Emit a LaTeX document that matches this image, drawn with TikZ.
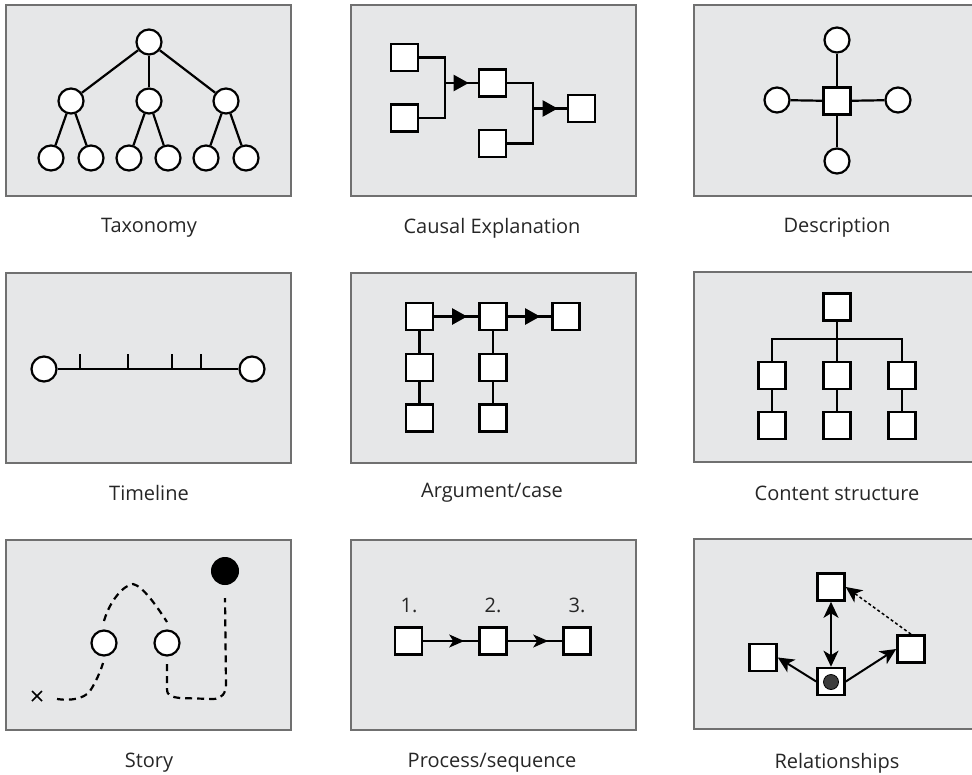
\documentclass[tikz,border=0pt]{standalone}
\usepackage{fontspec}
\setmainfont[Ligatures=NoCommon]{Open Sans}
\usetikzlibrary{arrows.meta,decorations.markings,calc}
\definecolor{panelfill}{HTML}{E6E7E8}
\definecolor{panelline}{HTML}{707070}
\definecolor{dotfill}{HTML}{3C3C3C}
\tikzset{
  panel/.style={draw=panelline, fill=panelfill, line width=1.1pt},
  sq/.style={draw, fill=white, line width=2.6pt, minimum size=27pt, inner sep=0pt},
  circ/.style={circle, draw, fill=white, line width=2.2pt, minimum size=25pt, inner sep=0pt},
  conn/.style={line width=2.2pt},
  lbl/.style={font=\fontsize{20}{24}\selectfont, text=black!85},
  midtri/.style={postaction={decorate}, decoration={markings,
     mark=at position #1 with {\arrow{Triangle[length=15pt,width=16pt]}}}},
  midstealth/.style={postaction={decorate}, decoration={markings,
     mark=at position #1 with {\arrow{Stealth[length=15pt,width=13pt,inset=4pt]}}}},
  rarrow/.style={line width=2pt, -{Stealth[length=16pt,width=15pt,inset=4.5pt]}},
  storyline/.style={line width=2.2pt, dash pattern=on 7pt off 5pt},
}
\begin{document}
\begin{tikzpicture}[x=1pt,y=-1pt]
\useasboundingbox (0,0) rectangle (972,774);
% panels
\draw[panel] (6,5) rectangle (291,196);
\draw[panel] (351,5) rectangle (636,196);
\draw[panel] (694,5) rectangle (979,196);
\draw[panel] (6,273) rectangle (291,463);
\draw[panel] (351,273) rectangle (636,463);
\draw[panel] (694,272) rectangle (979,462);
\draw[panel] (6,540) rectangle (291,730);
\draw[panel] (351,540) rectangle (636,730);
\draw[panel] (694,539) rectangle (979,729);
% labels
\node[lbl] (L1) at (149,228) {Taxonomy};
\node[lbl] (L2) at (492,228) {Causal Explanation};
\node[lbl] (L3) at (837,228) {Description};
\node[lbl] (L4) at (149,493) {Timeline};
\node[lbl] (L5) at (492,493) {Argument/case};
\node[lbl] (L6) at (837,493) {Content structure};
\node[lbl] (L7) at (149,763) {Story};
\node[lbl] (L8) at (492,763) {Process/sequence};
\node[lbl] (L9) at (837,763) {Relationships};

% ---- Taxonomy
\node[circ] (t0) at (149,42) {};
\node[circ] (t1) at (71,101) {};
\node[circ] (t2) at (149,101) {};
\node[circ] (t3) at (226,101) {};
\node[circ] (t11) at (51,158) {};
\node[circ] (t12) at (91,158) {};
\node[circ] (t21) at (129,158) {};
\node[circ] (t22) at (168,158) {};
\node[circ] (t31) at (206,158) {};
\node[circ] (t32) at (246,158) {};
\draw[conn] (t0) -- (t1); \draw[conn] (t0) -- (t2); \draw[conn] (t0) -- (t3);
\draw[conn] (t1) -- (t11); \draw[conn] (t1) -- (t12);
\draw[conn] (t2) -- (t21); \draw[conn] (t2) -- (t22);
\draw[conn] (t3) -- (t31); \draw[conn] (t3) -- (t32);

% ---- Causal explanation
\node[sq] (c1) at (404.5,57.5) {};
\node[sq] (c2) at (404.5,118) {};
\node[sq] (c3) at (492.5,83) {};
\node[sq] (c4) at (492.5,143.5) {};
\node[sq] (c5) at (581.5,108.5) {};
\coordinate (j1) at (445,83);
\coordinate (j2) at (533,108.5);
\draw[conn] (c1.east) -| (j1) |- (c2.east);
\draw[conn, midtri=-9pt] (j1) -- (c3.west);
\draw[conn] (c3.east) -| (j2) |- (c4.east);
\draw[conn, midtri=-9pt] (j2) -- (c5.west);

% ---- Description
\node[sq] (dc) at (837,101) {};
\node[circ] (dt) at (837,40) {};
\node[circ] (db) at (837,161) {};
\node[circ] (dl) at (777,100) {};
\node[circ] (dr) at (898,100) {};
\draw[conn] (dc) -- (dt); \draw[conn] (dc) -- (db);
\draw[conn] (dc) -- (dl); \draw[conn] (dc) -- (dr);

% ---- Timeline
\node[circ] (tl) at (44,369) {};
\node[circ] (tr) at (252,369) {};
\draw[conn] (tl) -- (tr);
\foreach \x in {80,128,172,201} \draw[conn] (\x,369) -- (\x,354);

% ---- Argument/case
\node[sq] (a1) at (419.5,316.5) {};
\node[sq] (a2) at (493,316.5) {};
\node[sq] (a3) at (566,316.5) {};
\node[sq] (a4) at (419.5,367.5) {};
\node[sq] (a5) at (419.5,418) {};
\node[sq] (a6) at (493,367.5) {};
\node[sq] (a7) at (493,418) {};
\draw[conn, midtri=-11pt] (a1) -- (a2);
\draw[conn, midtri=-11pt] (a2) -- (a3);
\draw[conn] (a1) -- (a4); \draw[conn] (a4) -- (a5);
\draw[conn] (a2) -- (a6); \draw[conn] (a6) -- (a7);

% ---- Content structure
\node[sq] (k0) at (837,307) {};
\node[sq] (k1) at (772,375.5) {};
\node[sq] (k2) at (837,375.5) {};
\node[sq] (k3) at (902,375.5) {};
\node[sq] (k4) at (772,425.5) {};
\node[sq] (k5) at (837,425.5) {};
\node[sq] (k6) at (902,425.5) {};
\coordinate (kb) at (837,339);
\draw[conn] (k0) -- (k2);
\draw[conn] (k1.north) |- (kb) -| (k3.north);
\draw[conn] (k1) -- (k4); \draw[conn] (k2) -- (k5); \draw[conn] (k3) -- (k6);

% ---- Story
\node[circ] (s1) at (104,643) {};
\node[circ] (s2) at (167,643) {};
\node[circle, fill=black, draw, line width=1pt, minimum size=27pt, inner sep=0pt] (s3) at (225,571) {};
\draw[line width=1.6pt] (32,691) -- (42,701) (32,701) -- (42,691);
\draw[storyline]
  (57,699) .. controls (70,701) and (84,699) .. (90,691)
  .. controls (96,682) and (101,670) .. (103,663);
\draw[storyline]
  (104,621) .. controls (110,600) and (124,585) .. (133,584)
  .. controls (143,586) and (158,608) .. (167,622);
\draw[storyline]
  (167,664) -- (167,689) .. controls (167,696) and (172,697) .. (180,698)
  -- (213,699) .. controls (222,699) and (226,693) .. (226,684) -- (225,598);

% ---- Process/sequence
\node[sq] (p1) at (408.5,641) {};
\node[sq] (p2) at (493,641) {};
\node[sq] (p3) at (577,641) {};
\node[lbl] (n1) at (409,605) {1.};
\node[lbl] (n2) at (493,605) {2.};
\node[lbl] (n3) at (577,605) {3.};
\draw[line width=1.6pt, midstealth=-14pt] (p1) -- (p2);
\draw[line width=1.6pt, midstealth=-14pt] (p2) -- (p3);

% ---- Relationships
\node[sq] (rt) at (831,587) {};
\node[sq] (rl) at (763,657.5) {};
\node[sq] (rr) at (911,649) {};
\node[sq] (rb) at (831,681.5) {};
\node[circle, draw, fill=dotfill, line width=0.8pt, minimum size=15pt, inner sep=0pt] (rd) at (831,682) {};
\draw[rarrow, {Stealth[length=16pt,width=15pt,inset=4.5pt]}-{Stealth[length=16pt,width=15pt,inset=4.5pt]}] (rt) -- (rb);
\draw[rarrow] (rb.west) -- (rl.east);
\draw[rarrow] (rb.east) -- (rr.west);
\draw[rarrow, line width=1.5pt, dash pattern=on 3pt off 2.5pt] (rr.north) -- (rt.east);
\end{tikzpicture}
\end{document}
